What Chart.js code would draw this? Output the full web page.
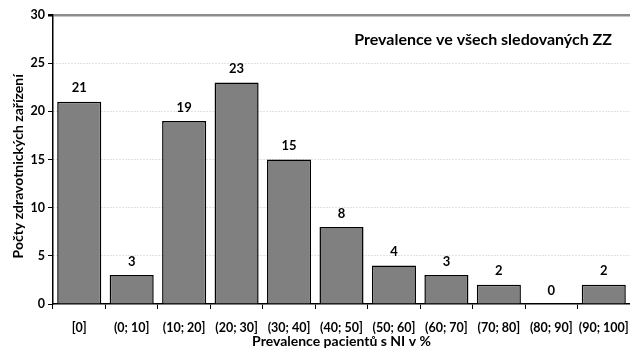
<!DOCTYPE html>
<html>
<head>
<meta charset="utf-8">
<script src="https://cdn.jsdelivr.net/npm/chart.js@4/dist/chart.umd.min.js"></script>
<style>
  html, body { margin: 0; padding: 0; background: #fff; }
  #wrap { width: 630px; height: 351px; }
</style>
</head>
<body>
<div id="wrap"><canvas id="c" width="630" height="351"></canvas></div>
<script>
// Prevalence intervals (%) and counts of facilities in each
const categories = ['[0]', '(0; 10]', '(10; 20]', '(20; 30]', '(30; 40]', '(40; 50]', '(50; 60]', '(60; 70]', '(70; 80]', '(80; 90]', '(90; 100]'];
const facilityCounts = [21, 3, 19, 23, 15, 8, 4, 3, 2, 0, 2];
const yTicks = [0, 5, 10, 15, 20, 25, 30];

const chartTitle = 'Prevalence ve všech sledovaných ZZ';
const xTitle = 'Prevalence pacientů s NI v %';
const yTitle = 'Počty zdravotnických zařízení    ';

const FONT = 'Lato, "Open Sans", sans-serif';

// Value labels above each bar
const valueLabels = {
  id: 'valueLabels',
  afterDatasetsDraw(chart) {
    const { ctx } = chart;
    const meta = chart.getDatasetMeta(0);
    ctx.save();
    ctx.font = 'bold 13px ' + FONT;
    ctx.fillStyle = '#000';
    ctx.textAlign = 'center';
    ctx.textBaseline = 'bottom';
    meta.data.forEach((bar, i) => {
      ctx.fillText(String(facilityCounts[i]), bar.x, bar.y - 7);
    });
    ctx.restore();
  }
};

// Heading drawn inside the plot area, top right
const innerTitle = {
  id: 'innerTitle',
  afterDraw(chart) {
    const { ctx, chartArea } = chart;
    ctx.save();
    ctx.font = 'bold 16px ' + FONT;
    ctx.fillStyle = '#000';
    ctx.textAlign = 'right';
    ctx.textBaseline = 'middle';
    ctx.fillText(chartTitle, chartArea.right - 18, chartArea.top + 25);
    ctx.restore();
  }
};

new Chart(document.getElementById('c'), {
  type: 'bar',
  data: {
    labels: categories,
    datasets: [{
      data: facilityCounts,
      backgroundColor: '#808080',
      borderColor: '#000',
      borderWidth: 1.5,
      barPercentage: 0.84,
      categoryPercentage: 1.0
    }]
  },
  plugins: [valueLabels, innerTitle],
  options: {
    responsive: false,
    animation: false,
    devicePixelRatio: 1,
    layout: { padding: { top: 15, right: -2, left: 0, bottom: 0 } },
    plugins: {
      legend: { display: false },
      tooltip: { enabled: false },
      title: { display: false }
    },
    scales: {
      x: {
        offset: true,
        grid: {
          offset: true,
          drawOnChartArea: false,
          drawTicks: true,
          tickLength: 5,
          color: '#000',
          lineWidth: 1
        },
        border: { display: true, color: '#000', width: 1.5 },
        ticks: {
          color: '#000',
          font: { family: FONT, size: 12.5, weight: 'bold' },
          padding: 11,
          maxRotation: 0,
          autoSkip: false
        },
        title: {
          display: true,
          text: xTitle,
          color: '#000',
          font: { family: FONT, size: 14, weight: 'bold' },
          padding: { top: 4, bottom: 1 }
        },
        afterFit(scale) {
          scale.height = 47;
          scale.paddingLeft = 0;
          scale.paddingRight = 0;
        }
      },
      y: {
        min: 0,
        max: 30,
        afterBuildTicks(scale) { scale.ticks = yTicks.map(v => ({ value: v })); },
        grid: {
          drawTicks: true,
          tickLength: 5,
          tickColor: '#000',
          color: ctx => {
            if (!ctx.tick) return 'rgba(0,0,0,0)';
            if (ctx.tick.value === 0) return 'rgba(0,0,0,0)';
            if (ctx.tick.value === 30) return '#8c8c8c';
            return '#c4c4c4';
          },
          lineWidth: ctx => (ctx.tick && ctx.tick.value === 30) ? 2.5 : 1
        },
        border: {
          display: true,
          color: '#000',
          width: 1.5,
          dash: ctx => (ctx.tick && ctx.tick.value !== 30) ? [1, 2] : []
        },
        ticks: {
          color: '#000',
          font: { family: FONT, size: 12.5, weight: 'bold' },
          padding: 3
        },
        title: {
          display: true,
          text: yTitle,
          color: '#000',
          font: { family: FONT, size: 14, weight: 'bold' },
          padding: { top: 10, bottom: 0 }
        },
        afterFit(scale) { scale.width = 53; }
      }
    }
  }
});
</script>
</body>
</html>
